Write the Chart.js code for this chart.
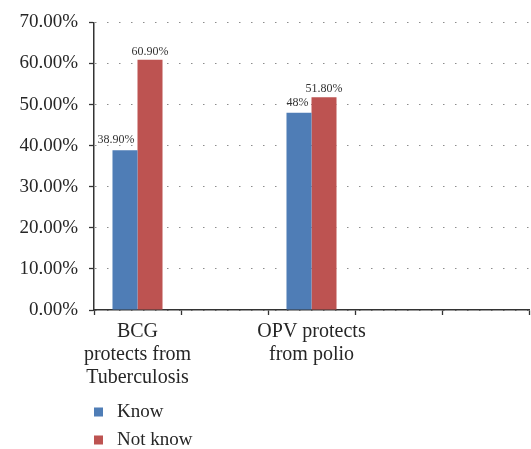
<!DOCTYPE html>
<html>
<head>
<meta charset="utf-8">
<script src="https://cdn.jsdelivr.net/npm/chart.js@4"></script>
<style>
  html, body { margin: 0; padding: 0; background: #fff; }
</style>
</head>
<body>
<canvas id="barChart" width="531" height="449"></canvas>
<script>
// カテゴリ（空の枠も軸に含める）
const categories = [
    ['BCG', 'protects from', 'Tuberculosis'],
    '',
    ['OPV protects', 'from polio'],
    '',
    ''
];
const knowValues = [38.9, null, 48, null, null];     // Know (%)
const notKnowValues = [60.9, null, 51.8, null, null]; // Not know (%)
const valueLabels = [
    ['38.90%', null, '48%', null, null],
    ['60.90%', null, '51.80%', null, null]
];

const serif = 'Liberation Serif, Times New Roman, serif';
const textColor = '#262626';

// 棒の上に値ラベルを描く
const barValueLabels = {
    id: 'barValueLabels',
    afterDatasetsDraw(chart) {
        const ctx = chart.ctx;
        ctx.save();
        ctx.font = '12px ' + serif;
        ctx.fillStyle = '#333';
        ctx.textBaseline = 'alphabetic';
        chart.data.datasets.forEach((ds, i) => {
            chart.getDatasetMeta(i).data.forEach((bar, j) => {
                const text = valueLabels[i][j];
                if (ds.data[j] == null || !text) return;
                const w = bar.width;
                if (i === 0) {
                    ctx.textAlign = 'right';
                    ctx.fillText(text, bar.x + w / 2 - 3, bar.y - 7);
                } else {
                    ctx.textAlign = 'center';
                    ctx.fillText(text, bar.x, bar.y - 5);
                }
            });
        });
        ctx.restore();
    }
};

// 縦並びの凡例
const stackedLegend = {
    id: 'stackedLegend',
    afterDraw(chart) {
        const ctx = chart.ctx;
        const left = chart.chartArea.left;
        ctx.save();
        ctx.font = '19px ' + serif;
        ctx.textBaseline = 'middle';
        ctx.textAlign = 'left';
        chart.data.datasets.forEach((ds, i) => {
            const cy = 412 + i * 28;
            ctx.fillStyle = ds.backgroundColor;
            ctx.fillRect(left, cy - 4.5, 9, 9);
            ctx.fillStyle = textColor;
            ctx.fillText(ds.label, left + 23, cy);
        });
        ctx.restore();
    }
};

const ctx = document.getElementById('barChart').getContext('2d');
const barChart = new Chart(ctx, {
    type: 'bar',
    data: {
        labels: categories,
        datasets: [{
            label: 'Know',
            data: knowValues,
            backgroundColor: '#4F7DB6'
        }, {
            label: 'Not know',
            data: notKnowValues,
            backgroundColor: '#BD5351'
        }]
    },
    options: {
        responsive: false,
        animation: false,
        layout: {
            padding: { top: 22, right: 2, bottom: 61, left: 0 }
        },
        datasets: {
            bar: {
                categoryPercentage: 0.575,
                barPercentage: 1.0,
                skipNull: false
            }
        },
        plugins: {
            legend: { display: false },
            tooltip: { enabled: false }
        },
        scales: {
            x: {
                afterFit(scale) { scale.height = 78; },
                grid: {
                    drawOnChartArea: false,
                    drawTicks: true,
                    tickLength: 5,
                    tickColor: '#333',
                    tickWidth: 1.3
                },
                border: { color: '#333', width: 1.5 },
                ticks: {
                    color: textColor,
                    padding: 5,
                    maxRotation: 0,
                    autoSkip: false,
                    font: { family: serif, size: 20, lineHeight: 1.15 }
                }
            },
            y: {
                min: 0,
                max: 70,
                afterFit(scale) { scale.width = 94; },
                grid: {
                    color: '#8c8c8c',
                    lineWidth: 1,
                    tickLength: 5,
                    tickColor: '#333',
                    tickWidth: 1.3
                },
                border: { color: '#333', width: 1.5, dash: [1.5, 10.5], dashOffset: -0.5 },
                ticks: {
                    stepSize: 10,
                    color: textColor,
                    padding: 11,
                    font: { family: serif, size: 19 },
                    callback: value => value.toFixed(2) + '%'
                }
            }
        }
    },
    plugins: [barValueLabels, stackedLegend]
});
</script>
</body>
</html>
